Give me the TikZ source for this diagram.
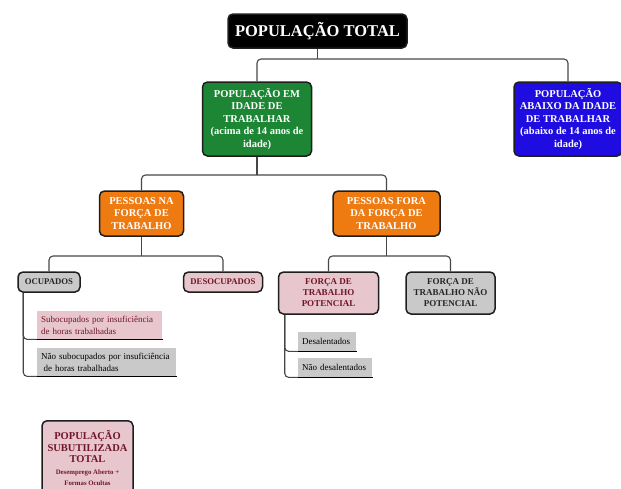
\documentclass[tikz,border=0pt]{standalone}
\usepackage{fontspec}
\setmainfont{Liberation Serif}
\usetikzlibrary{calc}
\definecolor{cgreen}{RGB}{28,134,52}
\definecolor{cblue}{RGB}{30,12,225}
\definecolor{corange}{RGB}{238,122,18}
\definecolor{cpink}{RGB}{232,198,205}
\definecolor{cgray}{RGB}{201,201,201}
\definecolor{cdred}{RGB}{112,22,40}
\definecolor{cline}{RGB}{30,30,30}
\definecolor{cconn}{RGB}{70,70,70}
\newcommand{\myNoHy}{\hyphenpenalty=10000 \exhyphenpenalty=10000 }
\tikzset{
  box/.style={draw=cline, line width=1.5pt, rounded corners=5pt, align=center, inner sep=0pt},
  bigtxt/.style={font=\bfseries\fontsize{10.5}{12.5}\selectfont},
  midtxt/.style={font=\bfseries\fontsize{9}{11}\selectfont},
  smalltxt/.style={font=\bfseries\fontsize{8.7}{10}\selectfont},
  conn/.style={draw=cconn, line width=1.1pt, rounded corners=4pt},
  item/.style={inner xsep=4pt, inner ysep=0pt, align=left, anchor=north west,
    font=\fontsize{9}{11.8}\selectfont},
  uline/.style={line width=1.8pt, black}
}
\begin{document}
\begin{tikzpicture}[x=1pt,y=-1pt]
\useasboundingbox (0,0) rectangle (621,488);
\clip (0,0) rectangle (621,488);
% level 0
\node[box, fill=black, text=white, minimum width=179pt, minimum height=34pt,
      font=\bfseries\fontsize{16.5}{18}\selectfont] (tot) at (317.5,31) {POPULAÇÃO TOTAL};
% level 1
\node[box, bigtxt, fill=cgreen, text=white, minimum width=109pt, minimum height=74pt] (pit) at (257,119)
  {POPULAÇÃO EM\\IDADE DE\\TRABALHAR\\(acima de 14 anos de\\idade)};
\node[box, bigtxt, fill=cblue, text=white, minimum width=108pt, minimum height=74pt] (pat) at (568,119)
  {POPULAÇÃO\\ABAIXO DA IDADE\\DE TRABALHAR\\(abaixo de 14 anos de\\idade)};
% level 2
\node[box, bigtxt, fill=corange, text=white, minimum width=84pt, minimum height=45pt] (pna) at (141.5,213.5)
  {PESSOAS NA\\FORÇA DE\\TRABALHO};
\node[box, bigtxt, fill=corange, text=white, minimum width=107pt, minimum height=45pt] (pfo) at (386.5,213.5)
  {PESSOAS FORA\\DA FORÇA DE\\TRABALHO};
% level 3
\node[box, smalltxt, fill=cgray, text=black!85, minimum width=62pt, minimum height=20pt] (ocu) at (49,282) {OCUPADOS};
\node[box, smalltxt, fill=cpink, text=cdred, minimum width=79pt, minimum height=20pt] (des) at (223,282) {DESOCUPADOS};
\node[box, midtxt, fill=cpink, text=cdred, minimum width=100pt, minimum height=42pt] (ftp) at (328.5,293)
  {FORÇA DE\\TRABALHO\\POTENCIAL};
\node[box, midtxt, fill=cgray, text=black!85, minimum width=89pt, minimum height=42pt] (ftn) at (450.5,293)
  {FORÇA DE\\TRABALHO NÃO\\POTENCIAL};
% items
\node[item, fill=cpink, text=cdred, text width=117pt, minimum height=28pt] (sub) at (37,311)
  {\myNoHy Subocupados por insuficiência\\de horas trabalhadas};
\node[item, fill=cgray, text=black, text width=131pt, minimum height=28pt] (nsub) at (37,348)
  {\myNoHy Não subocupados por insuficiência\\\hspace*{2.5pt}de horas trabalhadas};
\node[item, fill=cgray, text=black, text width=50pt, minimum height=19pt] (dsl) at (298,332) {\myNoHy Desalentados};
\node[item, fill=cgray, text=black, text width=66pt, minimum height=19pt] (ndsl) at (298,358) {\myNoHy Não desalentados};
% total
\node[box, fill=cpink, text=cdred, minimum width=91pt, minimum height=75pt, anchor=north,
      font=\bfseries\fontsize{10.5}{11.6}\selectfont] (subt) at (87.5,420)
  {POPULAÇÃO\\SUBUTILIZADA\\TOTAL\\{\fontsize{6.8}{8}\selectfont Desemprego Aberto +}\\{\fontsize{6.8}{8}\selectfont Formas Ocultas}};
% connectors
\coordinate (j0) at (317.5,59);
\draw[conn] (tot.south) -- (j0);
\draw[conn] (j0) -| (pit.north);
\draw[conn] (j0) -| (pat.north);
\coordinate (j1) at (257,175);
\draw[conn] (pit.south) -- (j1);
\draw[conn] (j1) -| (pna.north);
\draw[conn] (j1) -| (pfo.north);
\coordinate (j2) at (141.5,256);
\draw[conn] (pna.south) -- (j2);
\draw[conn] (j2) -| (ocu.north);
\draw[conn] (j2) -| (des.north);
\coordinate (j3) at (386.5,256);
\draw[conn] (pfo.south) -- (j3);
\draw[conn] (j3) -| (ftp.north);
\draw[conn] (j3) -| (ftn.north);
\coordinate (o1) at ($(ocu.south west)+(6,0)$);
\draw[conn] (o1) |- (sub.south west);
\draw[conn] (o1) |- (nsub.south west);
\coordinate (o2) at ($(ftp.south west)+(7,0)$);
\draw[conn] (o2) |- (dsl.south west);
\draw[conn] (o2) |- (ndsl.south west);
% underlines
\draw[uline] (sub.south west) -- ($(sub.south east)+(1,0)$);
\draw[uline] (nsub.south west) -- ($(nsub.south east)+(1,0)$);
\draw[uline] (dsl.south west) -- ($(dsl.south east)+(1,0)$);
\draw[uline] (ndsl.south west) -- ($(ndsl.south east)+(1,0)$);
\end{tikzpicture}
\end{document}
